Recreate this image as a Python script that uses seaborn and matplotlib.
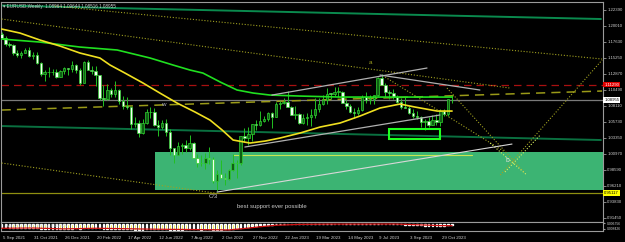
import matplotlib
matplotlib.use("Agg")
import matplotlib.pyplot as plt
import matplotlib.transforms as mtransforms
from matplotlib.patches import Rectangle
import seaborn as sns

sns.set_style("dark")
plt.rcParams['font.family'] = ['Liberation Sans', 'DejaVu Sans']

# ---------------- data (EURUSD weekly, week 0 = 5 Sep 2021) ----------------
opens = [1.1882, 1.1813, 1.1726, 1.1719, 1.1596, 1.1573, 1.1600, 1.1645, 1.1558, 1.1567,
         1.1446, 1.1289, 1.1318, 1.1316, 1.1315, 1.1239, 1.1323, 1.1370, 1.1358, 1.1412,
         1.1346, 1.1146, 1.1456, 1.1349, 1.1321, 1.1269, 1.0929, 1.0911, 1.1051, 1.0985,
         1.1046, 1.0877, 1.0810, 1.0798, 1.0545, 1.0550, 1.0410, 1.0561, 1.0723, 1.0718,
         1.0519, 1.0496, 1.0554, 1.0426, 1.0183, 1.0081, 1.0212, 1.0222, 1.0181, 1.0258,
         1.0037, 0.9963, 0.9953, 1.0040, 1.0016, 0.9688, 0.9802, 0.9739, 0.9722, 0.9862,
         0.9965, 0.9960, 1.0354, 1.0324, 1.0398, 1.0536, 1.0531, 1.0585, 1.0619, 1.0705,
         1.0645, 1.0833, 1.0855, 1.0870, 1.0796, 1.0678, 1.0694, 1.0547, 1.0634, 1.0641,
         1.0670, 1.0759, 1.0840, 1.0902, 1.0993, 1.0991, 1.1019, 1.1020, 1.0850, 1.0805,
         1.0723, 1.0708, 1.0750, 1.0940, 1.0893, 1.0910, 1.0968, 1.1228, 1.1125, 1.1017,
         1.1006, 1.0947, 1.0872, 1.0796, 1.0775, 1.0699, 1.0657, 1.0646, 1.0573, 1.0588,
         1.0530, 1.0594, 1.0566, 1.0728, 1.0683, 1.0896]
highs = [1.1909, 1.1846, 1.1753, 1.1723, 1.1641, 1.1624, 1.1669, 1.1692, 1.1616, 1.1609,
         1.1464, 1.1337, 1.1383, 1.1355, 1.1360, 1.1346, 1.1386, 1.1370, 1.1483, 1.1437,
         1.1369, 1.1483, 1.1495, 1.1395, 1.1396, 1.1275, 1.1121, 1.1137, 1.1070, 1.1185,
         1.1053, 1.0960, 1.0936, 1.0808, 1.0642, 1.0594, 1.0607, 1.0765, 1.0787, 1.0774,
         1.0601, 1.0606, 1.0615, 1.0462, 1.0188, 1.0278, 1.0258, 1.0294, 1.0369, 1.0275,
         1.0090, 1.0079, 1.0113, 1.0198, 1.0051, 0.9854, 0.9999, 0.9809, 0.9874, 1.0094,
         1.0000, 1.0364, 1.0481, 1.0497, 1.0545, 1.0595, 1.0737, 1.0659, 1.0714, 1.0713,
         1.0874, 1.0887, 1.0929, 1.1033, 1.0805, 1.0805, 1.0705, 1.0691, 1.0706, 1.0760,
         1.0930, 1.0925, 1.0973, 1.1076, 1.1000, 1.1095, 1.1092, 1.1032, 1.0903, 1.0835,
         1.0779, 1.0788, 1.0971, 1.1012, 1.0976, 1.0975, 1.1244, 1.1276, 1.1149, 1.1046,
         1.1065, 1.0965, 1.0930, 1.0945, 1.0800, 1.0769, 1.0737, 1.0659, 1.0619, 1.0640,
         1.0668, 1.0695, 1.0757, 1.0756, 1.0914, 1.0964]
lows = [1.1802, 1.1700, 1.1684, 1.1563, 1.1529, 1.1524, 1.1599, 1.1535, 1.1513, 1.1432,
        1.1249, 1.1185, 1.1236, 1.1262, 1.1222, 1.1235, 1.1279, 1.1272, 1.1314, 1.1300,
        1.1121, 1.1142, 1.1370, 1.1280, 1.1106, 1.0899, 1.0806, 1.0900, 1.0945, 1.0946,
        1.0837, 1.0757, 1.0760, 1.0471, 1.0492, 1.0350, 1.0389, 1.0533, 1.0627, 1.0507,
        1.0359, 1.0470, 1.0365, 1.0072, 0.9952, 1.0078, 1.0097, 1.0123, 1.0160, 1.0033,
        0.9899, 0.9910, 0.9864, 0.9945, 0.9665, 0.9536, 0.9752, 0.9632, 0.9705, 0.9840,
        0.9730, 0.9935, 1.0271, 1.0225, 1.0290, 1.0443, 1.0515, 1.0575, 1.0588, 1.0483,
        1.0643, 1.0766, 1.0836, 1.0792, 1.0669, 1.0613, 1.0533, 1.0533, 1.0524, 1.0516,
        1.0636, 1.0713, 1.0829, 1.0831, 1.0909, 1.0961, 1.0941, 1.0849, 1.0760, 1.0704,
        1.0635, 1.0666, 1.0732, 1.0845, 1.0834, 1.0833, 1.0955, 1.1119, 1.0943, 1.0912,
        1.0913, 1.0845, 1.0766, 1.0772, 1.0686, 1.0632, 1.0616, 1.0488, 1.0448, 1.0495,
        1.0524, 1.0522, 1.0517, 1.0656, 1.0656, 1.0852]
closes = [1.1813, 1.1726, 1.1719, 1.1596, 1.1573, 1.1600, 1.1645, 1.1558, 1.1567, 1.1446,
          1.1289, 1.1318, 1.1316, 1.1315, 1.1239, 1.1323, 1.1370, 1.1358, 1.1412, 1.1346,
          1.1146, 1.1456, 1.1349, 1.1321, 1.1269, 1.0929, 1.0911, 1.1051, 1.0985, 1.1046,
          1.0877, 1.0810, 1.0798, 1.0545, 1.0550, 1.0410, 1.0561, 1.0723, 1.0718, 1.0519,
          1.0496, 1.0554, 1.0426, 1.0183, 1.0081, 1.0212, 1.0222, 1.0181, 1.0258, 1.0037,
          0.9963, 0.9953, 1.0040, 1.0016, 0.9688, 0.9802, 0.9739, 0.9722, 0.9862, 0.9965,
          0.9960, 1.0354, 1.0324, 1.0398, 1.0536, 1.0531, 1.0585, 1.0619, 1.0705, 1.0645,
          1.0833, 1.0855, 1.0870, 1.0796, 1.0678, 1.0694, 1.0547, 1.0634, 1.0641, 1.0670,
          1.0759, 1.0840, 1.0902, 1.0993, 1.0991, 1.1019, 1.1020, 1.0850, 1.0805, 1.0723,
          1.0708, 1.0750, 1.0940, 1.0893, 1.0910, 1.0968, 1.1228, 1.1125, 1.1017, 1.1006,
          1.0947, 1.0872, 1.0796, 1.0775, 1.0699, 1.0657, 1.0646, 1.0573, 1.0588, 1.0530,
          1.0594, 1.0566, 1.0728, 1.0683, 1.0914, 1.0896]
weeks = list(range(len(closes)))

# moving averages
ma_yellow_w = [0, 4.7, 9.8, 14.9, 20, 25.1, 27.7, 31.5, 36.1, 40.4, 44.8, 49.4, 53.2, 56.3,
               59.1, 63.4, 67.3, 71.1, 76.2, 81.3, 86.4, 91.5, 96.6, 101.7, 105.5, 111.2, 115]
ma_yellow_p = [1.1952, 1.1892, 1.1788, 1.1699, 1.1595, 1.1521, 1.1416, 1.1297, 1.1149, 1.1000,
               1.0851, 1.0717, 1.0598, 1.0450, 1.0301, 1.0256, 1.0286, 1.0331, 1.0405, 1.0494,
               1.0554, 1.0658, 1.0777, 1.0836, 1.0792, 1.0732, 1.0732]
ma_green_w = [0, 9.8, 20, 29.5, 37.9, 43.8, 48.1, 51.4, 55.8, 60.1, 64.2, 68.5, 76.2, 86.4,
              96.6, 106.8, 115]
ma_green_p = [1.1803, 1.1758, 1.1684, 1.1640, 1.1521, 1.1416, 1.1342, 1.1297, 1.1164, 1.1045,
              1.1000, 1.0970, 1.0955, 1.0940, 1.0940, 1.0940, 1.0940]
ma_top_w = [0, 153]
ma_top_p = [1.2302, 1.2101]
ma_mid_w = [0, 153]
ma_mid_p = [1.0509, 1.0301]

# horizontal levels
red_level = 1.1126
bid_price = 1.08955
olive_level = 0.9512
olive_dash_w = [0, 153.3]
olive_dash_p = [1.0747, 1.1030]

# support zone
zone_w = [39.2, 153.4]
zone_p = [0.9553, 1.0118]
zone_line_w = [59.1, 120.1]
zone_line_p = [1.0073, 1.0073]

# trend lines (week, price)
dot1_w, dot1_p = [13.6, 153.3], [1.2294, 1.1506]
dot2_w, dot2_p = [0, 129.8], [1.2101, 1.1074]
dot3_w, dot3_p = [0, 54.5], [0.9959, 0.9512]
proj1_w, proj1_p = [113.7, 133.6], [1.1074, 0.9810]
proj2_w, proj2_p = [97.9, 128.5], [1.1238, 1.0122]
proj3_w, proj3_p = [127.3, 153.3], [0.9780, 1.1491]
proj4_w, proj4_p = [124.7, 134.1], [1.0256, 0.9780]
proj5_w, proj5_p = [128.5, 137.5], [0.9825, 1.0375]
white_w, white_p = [55.0, 130.3], [0.9527, 1.0241]
chan_up_w, chan_up_p = [69.0, 108.6], [1.0970, 1.1372]
chan_lo_w, chan_lo_p = [62.1, 111.9], [1.0197, 1.0673]
peak_w, peak_p = [96.6, 122.1], [1.1268, 1.1045]
box_w, box_p = [98.9, 111.9], [1.0316, 1.0464]

# oscillator sub window
macd = [-0.55, -0.6, -0.62, -0.7, -0.75, -0.75, -0.72, -0.72, -0.72, -0.75,
        -0.85, -0.9, -0.92, -0.92, -0.95, -0.92, -0.88, -0.85, -0.8, -0.78,
        -0.8, -0.72, -0.68, -0.66, -0.66, -0.78, -0.85, -0.85, -0.85, -0.82,
        -0.85, -0.88, -0.9, -0.98, -1.0, -1.05, -1.0, -0.92, -0.88, -0.9,
        -0.92, -0.9, -0.92, -1.0, -1.05, -1.02, -1.0, -0.98, -0.95, -0.95,
        -0.98, -1.0, -0.98, -0.96, -1.0, -1.0, -1.0, -0.98, -0.92, -0.85,
        -0.78, -0.65, -0.55, -0.45, -0.36, -0.28, -0.2, -0.14, -0.08, -0.04,
        0.02, 0.06, 0.1, 0.12, 0.1, 0.08, 0.04, 0.03, 0.02, 0.02,
        0.03, 0.05, 0.08, 0.12, 0.14, 0.16, 0.17, 0.15, 0.12, 0.08,
        0.05, 0.04, 0.07, 0.08, 0.09, 0.1, 0.14, 0.16, 0.15, 0.13,
        0.1, 0.06, 0.02, -0.02, -0.06, -0.1, -0.14, -0.2, -0.25, -0.28,
        -0.3, -0.3, -0.28, -0.27, -0.2, -0.15]
signal_w = [0, 8, 16, 24, 32, 40, 48, 55, 58, 62, 66, 70, 76, 84, 92, 100, 106, 112, 115]
signal_v = [-0.75, -0.7, -0.88, -0.75, -0.85, -0.95, -1.0, -1.05, -1.08, -0.8, -0.45, -0.15,
            0.02, 0.08, 0.08, 0.1, -0.05, -0.22, -0.24]
osc_ticks = [0.25, -0.85]
osc_labels = ["0.006756", "0.008426"]

price_ticks = [1.22390, 1.20010, 1.17630, 1.15250, 1.12870, 1.10490, 1.08110, 1.05730,
               1.03350, 1.00970, 0.98590, 0.96210, 0.93830, 0.91450]
price_labels = ["1.22390", "1.20010", "1.17630", "1.15250", "1.12870", "1.10490", "1.08110",
                "1.05730", "1.03350", "1.00970", "0.98590", "0.96210", "0.93830", "0.91450"]
date_ticks = [0, 8, 16, 24, 32, 40, 48, 56, 64, 72, 80, 88, 96, 104, 112]
date_labels = ["5 Sep 2021", "31 Oct 2021", "26 Dec 2021", "20 Feb 2022", "17 Apr 2022",
               "12 Jun 2022", "7 Aug 2022", "2 Oct 2022", "27 Nov 2022", "22 Jan 2023",
               "19 Mar 2023", "14 May 2023", "9 Jul 2023", "3 Sep 2023", "29 Oct 2023"]
title_text = "\u25be EURUSD,Weekly  1.08964 1.09644 1.08516 1.08955"

# ---------------- figure ----------------
BG = "black"
GRID = "#9a9a9a"
TXT = "#d0d0d0"
XMIN, XMAX = -0.15, 153.4

fig = plt.figure(figsize=(6.25, 2.42), dpi=100, facecolor=BG)
ax = fig.add_axes([0.0016, 0.0847, 0.9624, 0.907])
sub = fig.add_axes([0.0016, 0.0442, 0.9624, 0.0364])
for a in (ax, sub):
    a.set_facecolor(BG)
    a.grid(False)
    a.set_xlim(XMIN, XMAX)
    for s in a.spines.values():
        s.set_color(GRID)
        s.set_linewidth(0.8)
        s.set_visible(True)

ax.set_ylim(0.9089, 1.2354)

# support zone
ax.add_patch(Rectangle((zone_w[0], zone_p[0]), zone_w[1] - zone_w[0] + 1, zone_p[1] - zone_p[0],
                       facecolor="#3cb473", edgecolor="none", zorder=1))
ax.plot(zone_line_w, zone_line_p, color="#c8e650", lw=0.8, zorder=2)

# horizontal levels
ax.axhline(red_level, color="#a81010", lw=0.9, ls=(0, (6, 4)), zorder=2)
ax.axhline(olive_level, color="#8f8f10", lw=0.9, zorder=2)
ax.axhline(bid_price, color="#7a7a7a", lw=0.9, zorder=2)
ax.plot(olive_dash_w, olive_dash_p, color="#9a9a18", lw=1.1, ls=(0, (6, 4)), zorder=2)

# higher timeframe MAs
sns.lineplot(x=ma_top_w, y=ma_top_p, ax=ax, color="#0a8a4e", lw=1.4, zorder=2)
sns.lineplot(x=ma_mid_w, y=ma_mid_p, ax=ax, color="#0a7040", lw=1.4, zorder=2)

# dotted trend lines
dot_kw = dict(color="#a0a020", lw=0.8, ls=(0, (1, 1.6)), zorder=3)
for xw, yp in [(dot1_w, dot1_p), (dot2_w, dot2_p), (dot3_w, dot3_p),
               (proj1_w, proj1_p), (proj2_w, proj2_p), (proj3_w, proj3_p)]:
    ax.plot(xw, yp, **dot_kw)
for xw, yp in [(proj4_w, proj4_p), (proj5_w, proj5_p)]:
    ax.plot(xw, yp, color="#d8f060", lw=0.8, ls=(0, (1, 1.6)), zorder=3)

# candles
wick_c = "#22c022"
ax.vlines(weeks, lows, highs, color=wick_c, lw=0.7, zorder=4)
bodies_lo = [min(o, c) for o, c in zip(opens, closes)]
bodies_h = [max(abs(c - o), 0.0004) for o, c in zip(opens, closes)]
faces = ["#0f5f14" if c >= o else "#f2fff2" for o, c in zip(opens, closes)]
ax.bar(weeks, bodies_h, bottom=bodies_lo, width=0.62, color=faces, edgecolor="#30d030",
       linewidth=0.5, zorder=5)

# moving averages
sns.lineplot(x=ma_green_w, y=ma_green_p, ax=ax, color="#20e020", lw=1.2, zorder=6)
sns.lineplot(x=ma_yellow_w, y=ma_yellow_p, ax=ax, color="#f0e020", lw=1.2, zorder=6)

# grey / white trend lines
ax.plot(white_w, white_p, color="#d8d8d8", lw=0.8, zorder=7)
ax.plot(chan_up_w, chan_up_p, color="#b0b0b0", lw=0.9, zorder=7)
ax.plot(chan_lo_w, chan_lo_p, color="#b0b0b0", lw=0.9, zorder=7)
ax.plot(peak_w, peak_p, color="#b0b0b0", lw=0.9, zorder=7)
ax.add_patch(Rectangle((box_w[0], box_p[0]), box_w[1] - box_w[0], box_p[1] - box_p[0],
                       facecolor="none", edgecolor="#20ff20", lw=1.5, zorder=7))

# annotations
ax.text(41.2, 1.0822, "w", color="#b8b8c8", fontsize=4.5, ha="center", va="center", zorder=8)
ax.text(94.1, 1.1461, "a", color="#a0a020", fontsize=4.5, ha="center", va="center", zorder=8)
ax.text(129.0, 1.0003, "b", color="#e0e0e0", fontsize=4.8, ha="center", va="center", zorder=8)
ax.text(54.0, 0.9468, "C/3", color="#c8c8c8", fontsize=4.3, ha="center", va="center", zorder=8)
ax.text(60.1, 0.9319, "best support ever possible", color="#c8c8c8", fontsize=4.3,
        ha="left", va="center", zorder=8)
ax.text(0.004, 0.99, title_text, transform=ax.transAxes, color=TXT, fontsize=3.3,
        ha="left", va="top", zorder=9)

# right price axis
ax.yaxis.tick_right()
ax.set_yticks(price_ticks)
ax.set_yticklabels(price_labels)
ax.tick_params(axis="y", colors=TXT, labelsize=3.1, length=2, width=0.6, pad=1.5,
               color=GRID, labelcolor=TXT)
ax.tick_params(axis="x", bottom=False, labelbottom=False)
ax.set_xlabel("")
ax.set_ylabel("")

trans = mtransforms.blended_transform_factory(ax.transAxes, ax.transData)
box_kw = dict(transform=trans, fontsize=3.1, ha="left", va="center", zorder=10, clip_on=False)
ax.text(1.003, red_level, "1.11290", color="white",
        bbox=dict(facecolor="#e00000", edgecolor="none", pad=0.6), **box_kw)
ax.text(1.003, bid_price, "1.08955", color="black",
        bbox=dict(facecolor="white", edgecolor="none", pad=0.6), **box_kw)
ax.text(1.003, olive_level, "0.95117", color="black",
        bbox=dict(facecolor="#ffff00", edgecolor="none", pad=0.6), **box_kw)

# oscillator sub-window
sub.set_ylim(-1.36, 0.4)
sub.bar(weeks, macd, width=0.45, color="#f0f000", zorder=2)
sns.lineplot(x=signal_w, y=signal_v, ax=sub, color="#d01010", lw=0.9, zorder=3)
sub.text(0.006, 0.55, "MACD(12,26,9) 0.006756 0.008426", transform=sub.transAxes,
         color=TXT, fontsize=2.8, ha="left", va="center", zorder=4)
sub.yaxis.tick_right()
sub.set_yticks(osc_ticks)
sub.set_yticklabels(osc_labels)
sub.tick_params(axis="y", labelsize=2.4, length=1.5, pad=1.5, color=GRID, labelcolor=TXT)
sub.set_xticks(date_ticks)
sub.set_xticklabels(date_labels)
sub.tick_params(axis="x", labelsize=3.2, length=2.5, width=0.6, pad=1.2, color=GRID,
                labelcolor=TXT, direction="out")
offset = mtransforms.ScaledTranslation(1.2 / 100, 0, fig.dpi_scale_trans)
for lab in sub.get_xticklabels():
    lab.set_horizontalalignment("left")
    lab.set_transform(lab.get_transform() + offset)
sub.set_xlabel("")
sub.set_ylabel("")

fig.savefig("out.png", dpi=100, facecolor=BG)
